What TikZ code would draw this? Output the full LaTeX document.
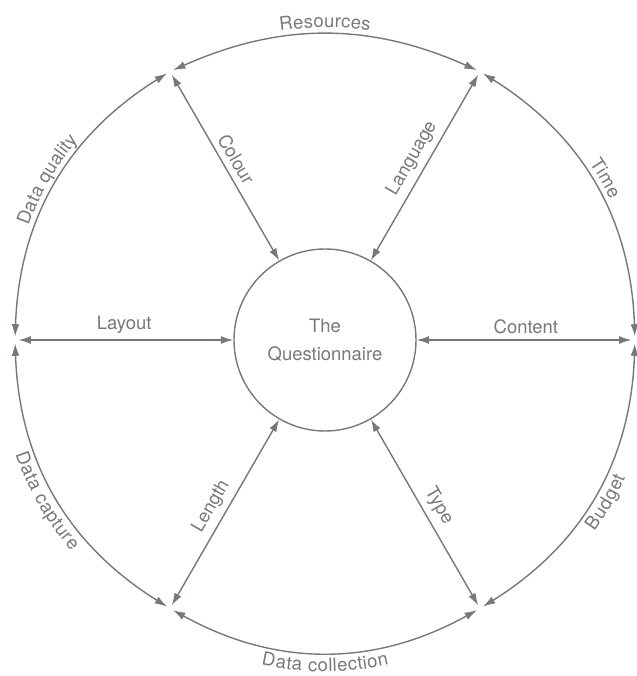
\documentclass[tikz,border=0pt]{standalone}
\usepackage{fontspec}
\setmainfont{TeX Gyre Heros}
\usetikzlibrary{arrows.meta,decorations.text}
\definecolor{ink}{RGB}{118,122,118}
\newcommand\arcfont{\fontsize{10.5}{12}\selectfont\color{ink}}

\begin{document}
\begin{tikzpicture}[
    hub/.style={circle, draw=ink, line width=0.8pt, minimum size=3.64cm, align=center, text=ink, font=\fontsize{10.5}{16}\selectfont},
    arr/.style={{Latex[length=7pt,width=4.5pt]}-{Latex[length=7pt,width=4.5pt]}, line width=0.8pt, ink},
    spoke/.style={arr, shorten <=2pt},
    rim/.style={arr, shorten <=2pt, shorten >=2pt},
    lbl/.style={font=\fontsize{10.5}{12}\selectfont, text=ink, midway, sloped, above},
    outtxt/.style={decorate, decoration={text along path, text align=center, raise=4pt, text={|\arcfont|#1}}},
    intxt/.style={decorate, decoration={text along path, text align=center, raise=-11pt, text={|\arcfont|#1}}}
  ]
  \useasboundingbox (-6.5,-6.72) rectangle (6.22,6.8);

  %% Rim points
  \def\R{6.2}
  \foreach \a/\name in {0/e, 60/ne, 120/nw, 180/w, 240/sw, 300/se}{
    \coordinate (\name) at (\a:\R);
  }

  %% Centre
  \node[hub] (q) at (0,0) {The\\Questionnaire};

  %% Spokes
  \draw[spoke] (nw) -- node[lbl] {Colour} (q);
  \draw[spoke] (ne) -- node[lbl] {Language} (q);
  \draw[spoke] (e)  -- node[lbl] {Content} (q);
  \draw[spoke] (se) -- node[lbl] {Type} (q);
  \draw[spoke] (sw) -- node[lbl] {Length} (q);
  \draw[spoke] (w)  -- node[lbl] {Layout} (q);

  %% Rim arcs
  \draw[rim] (nw) to[bend left=24]  (ne);
  \draw[rim] (ne) to[bend left=28]  (e);
  \draw[rim] (se) to[bend right=28] (e);
  \draw[rim] (sw) to[bend right=29] (se);
  \draw[rim] (w)  to[bend right=28] (sw);
  \draw[rim] (w)  to[bend left=28]  (nw);

  %% Rim labels
  \path[outtxt=Resources]       (nw) to[bend left=24]  (ne);
  \path[outtxt=Time]            (ne) to[bend left=28]  (e);
  \path[intxt=Budget]           (se) to[bend right=28] (e);
  \path[intxt=Data collection]  (sw) to[bend right=29] (se);
  \path[intxt=Data capture]     (w)  to[bend right=28] (sw);
  \path[outtxt=Data quality]    (w)  to[bend left=28]  (nw);

\end{tikzpicture}
\end{document}
